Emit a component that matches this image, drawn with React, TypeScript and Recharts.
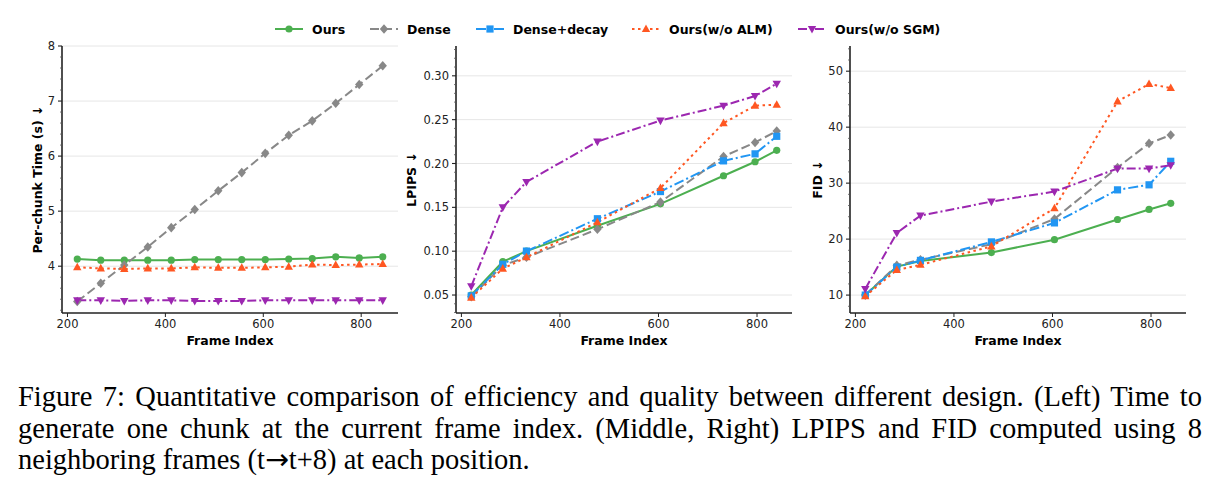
import React from "react";
import { LineChart, Line, XAxis, YAxis, ReferenceLine } from "recharts";

// frame positions sampled for the timing run and for the quality runs
const timeFrames = [220, 268, 316, 364, 412, 460, 508, 556, 604, 652, 700, 748, 796, 844];
const qualityFrames = [220, 284, 332, 476, 604, 732, 796, 840];

// per-chunk time (s)
const timeOurs = [4.13, 4.11, 4.11, 4.11, 4.11, 4.12, 4.12, 4.12, 4.12, 4.13, 4.14, 4.17, 4.15, 4.17];
const timeDense = [3.36, 3.69, 4.02, 4.35, 4.70, 5.03, 5.37, 5.70, 6.05, 6.38, 6.64, 6.96, 7.30, 7.64];
const timeNoAlm = [3.98, 3.96, 3.95, 3.96, 3.96, 3.98, 3.97, 3.97, 3.98, 3.99, 4.03, 4.02, 4.03, 4.04];
const timeNoSgm = [3.38, 3.38, 3.37, 3.38, 3.38, 3.37, 3.37, 3.37, 3.38, 3.38, 3.38, 3.38, 3.38, 3.38];

// LPIPS
const lpipsOurs = [0.050, 0.088, 0.100, 0.129, 0.154, 0.186, 0.202, 0.215];
const lpipsDense = [0.048, 0.084, 0.093, 0.125, 0.156, 0.208, 0.224, 0.237];
const lpipsDecay = [0.049, 0.085, 0.100, 0.137, 0.168, 0.203, 0.211, 0.231];
const lpipsNoAlm = [0.047, 0.080, 0.093, 0.133, 0.172, 0.246, 0.266, 0.267];
const lpipsNoSgm = [0.060, 0.150, 0.179, 0.225, 0.249, 0.266, 0.277, 0.291];

// FID
const fidOurs = [10.0, 15.1, 16.1, 17.6, 19.9, 23.5, 25.3, 26.4];
const fidDense = [10.0, 15.3, 16.3, 19.1, 23.6, 32.8, 37.1, 38.6];
const fidDecay = [10.0, 15.0, 16.2, 19.5, 22.9, 28.8, 29.7, 33.9];
const fidNoAlm = [9.8, 14.5, 15.4, 18.7, 25.5, 44.6, 47.7, 47.0];
const fidNoSgm = [11.1, 21.1, 24.2, 26.7, 28.5, 32.6, 32.6, 33.2];

const timeTicks = [4, 5, 6, 7, 8];
const lpipsTicks = [0.05, 0.1, 0.15, 0.2, 0.25, 0.3];
const fidTicks = [10, 20, 30, 40, 50];
const frameTicks = [200, 400, 600, 800];

type Shape = "circle" | "diamond" | "square" | "up" | "down";
type SeriesStyle = { key: string; name: string; color: string; dash?: string; shape: Shape };

const SERIES: SeriesStyle[] = [
  { key: "ours", name: "Ours", color: "#4caf50", shape: "circle" },
  { key: "dense", name: "Dense", color: "#888888", dash: "9 4", shape: "diamond" },
  { key: "decay", name: "Dense+decay", color: "#2196f3", dash: "10 3 2 3", shape: "square" },
  { key: "noAlm", name: "Ours(w/o ALM)", color: "#ff5722", dash: "2.5 3.5", shape: "up" },
  { key: "noSgm", name: "Ours(w/o SGM)", color: "#9c27b0", dash: "9 3 2 3", shape: "down" },
];

const timeRows = timeFrames.map((frame, i) => ({
  frame,
  ours: timeOurs[i],
  dense: timeDense[i],
  noAlm: timeNoAlm[i],
  noSgm: timeNoSgm[i],
}));

const lpipsRows = qualityFrames.map((frame, i) => ({
  frame,
  ours: lpipsOurs[i],
  dense: lpipsDense[i],
  decay: lpipsDecay[i],
  noAlm: lpipsNoAlm[i],
  noSgm: lpipsNoSgm[i],
}));

const fidRows = qualityFrames.map((frame, i) => ({
  frame,
  ours: fidOurs[i],
  dense: fidDense[i],
  decay: fidDecay[i],
  noAlm: fidNoAlm[i],
  noSgm: fidNoSgm[i],
}));

const SANS = "'DejaVu Sans', sans-serif";
const INK = "#222";

// every minor step inside the y range, majors included
function stepTicks(from: number, to: number, step: number) {
  const out: number[] = [];
  for (let k = Math.ceil(from / step - 1e-9); k * step <= to + 1e-9; k++) {
    out.push(+(k * step).toFixed(6));
  }
  return out;
}

function markerPath(shape: Shape, cx: number, cy: number) {
  switch (shape) {
    case "diamond":
      return `M${cx},${cy - 4.8}L${cx + 4.2},${cy}L${cx},${cy + 4.8}L${cx - 4.2},${cy}Z`;
    case "square":
      return `M${cx - 3.6},${cy - 3.6}h7.2v7.2h-7.2Z`;
    case "up":
      return `M${cx},${cy - 4.6}L${cx + 4.2},${cy + 3}L${cx - 4.2},${cy + 3}Z`;
    case "down":
      return `M${cx},${cy + 4.6}L${cx + 4.2},${cy - 3}L${cx - 4.2},${cy - 3}Z`;
    default:
      return "";
  }
}

function Marker({ shape, color, cx, cy }: { shape: Shape; color: string; cx: number; cy: number }) {
  if (shape === "circle") return <circle cx={cx} cy={cy} r={3.6} fill={color} />;
  return <path d={markerPath(shape, cx, cy)} fill={color} />;
}

function dotFor(s: SeriesStyle) {
  return (props: any) => {
    const { cx, cy, index } = props;
    if (cx == null || cy == null) return <g key={`${s.key}-${index}`} />;
    return (
      <g key={`${s.key}-${index}`}>
        <Marker shape={s.shape} color={s.color} cx={cx} cy={cy} />
      </g>
    );
  };
}

type PanelProps = {
  left: number;
  rows: any[];
  keys: string[];
  xDomain: [number, number];
  yDomain: [number, number];
  yTicks: number[];
  minorStep: number;
  yWidth: number;
  yTitle: string;
  yTitleX: number;
  fmt?: (v: number) => string;
};

function Panel({ left, rows, keys, xDomain, yDomain, yTicks, minorStep, yWidth, yTitle, yTitleX, fmt }: PanelProps) {
  const width = 400;
  const rightGap = width - yWidth - 336;
  const tickStyle = { fontSize: 11.5, fill: INK, fontFamily: SANS };
  const titleStyle = { fontSize: 12.5, fontWeight: "bold", fill: "#000", fontFamily: SANS };
  const frame = { stroke: INK, strokeWidth: 1.6 };
  const allTicks = stepTicks(yDomain[0], yDomain[1], minorStep);
  const isMajor = (v: number) => yTicks.some((m) => Math.abs(m - v) < 1e-6);

  const yTick = (p: any) => {
    const v = p.payload.value;
    const major = isMajor(v);
    return (
      <g>
        <line
          x1={yWidth - (major ? 4 : 2)}
          x2={yWidth}
          y1={p.y}
          y2={p.y}
          stroke={major ? INK : "#555"}
          strokeWidth={major ? 1.1 : 0.8}
        />
        {major && (
          <text x={yWidth - 7} y={p.y} dy="0.36em" textAnchor="end" {...tickStyle}>
            {fmt ? fmt(v) : v}
          </text>
        )}
      </g>
    );
  };

  return (
    <div style={{ position: "absolute", left, top: 0 }}>
      <LineChart
        width={width}
        height={360}
        data={rows}
        margin={{ top: 46, right: rightGap, bottom: 0, left: 0 }}
      >
        <XAxis
          dataKey="frame"
          type="number"
          domain={xDomain}
          ticks={frameTicks}
          allowDataOverflow
          height={47}
          tick={tickStyle}
          tickSize={4}
          tickMargin={3}
          tickLine={{ stroke: INK }}
          axisLine={frame}
          label={{ value: "Frame Index", position: "insideBottom", offset: 15, style: titleStyle }}
        />
        <XAxis
          xAxisId="top"
          orientation="top"
          type="number"
          domain={xDomain}
          allowDataOverflow
          height={0}
          tick={false}
          tickLine={false}
          axisLine={frame}
        />
        <YAxis
          type="number"
          domain={yDomain}
          ticks={allTicks}
          interval={0}
          allowDataOverflow
          width={yWidth}
          tick={yTick}
          tickSize={4}
          tickMargin={3}
          tickLine={false}
          axisLine={frame}
          label={{
            value: yTitle,
            angle: -90,
            position: "insideLeft",
            offset: yTitleX,
            style: { ...titleStyle, textAnchor: "middle" },
          }}
        />
        <YAxis
          yAxisId="right"
          orientation="right"
          type="number"
          domain={yDomain}
          allowDataOverflow
          width={0}
          tick={false}
          tickLine={false}
          axisLine={frame}
        />
        {/* horizontal grid at the major ticks only */}
        {yTicks.map((v) => (
          <ReferenceLine key={`grid-${v}`} y={v} stroke="#e6e6e6" strokeWidth={1} />
        ))}
        {SERIES.filter((s) => keys.includes(s.key)).map((s) => (
          <Line
            key={s.key}
            dataKey={s.key}
            name={s.name}
            type="linear"
            stroke={s.color}
            strokeWidth={2}
            strokeDasharray={s.dash}
            dot={dotFor(s)}
            activeDot={false}
            isAnimationActive={false}
          />
        ))}
      </LineChart>
    </div>
  );
}

function LegendRow() {
  const items = [
    { s: SERIES[0], x: 275 },
    { s: SERIES[1], x: 370 },
    { s: SERIES[2], x: 476 },
    { s: SERIES[3], x: 632 },
    { s: SERIES[4], x: 798 },
  ];
  return (
    <>
      {items.map(({ s, x }) => (
        <div
          key={s.key}
          style={{
            position: "absolute",
            left: x,
            top: 20,
            height: 18,
            display: "flex",
            alignItems: "center",
            gap: 9,
            fontFamily: SANS,
            fontWeight: "bold",
            fontSize: 12.5,
            color: "#000",
            whiteSpace: "nowrap",
          }}
        >
          <svg width={28} height={18}>
            <line x1={0} y1={9} x2={28} y2={9} stroke={s.color} strokeWidth={2} strokeDasharray={s.dash} />
            <Marker shape={s.shape} color={s.color} cx={14} cy={9} />
          </svg>
          <span>{s.name}</span>
        </div>
      ))}
    </>
  );
}

const captionLines = [
  "Figure 7: Quantitative comparison of efficiency and quality between different design. (Left) Time to",
  "generate one chunk at the current frame index. (Middle, Right) LPIPS and FID computed using 8",
];

export default function App() {
  const lineStyle = (last: boolean): React.CSSProperties => ({
    textAlign: "justify",
    textAlignLast: last ? "left" : "justify",
    whiteSpace: "nowrap",
  });
  return (
    <div
      style={{
        position: "absolute",
        left: 0,
        top: 0,
        width: 1219,
        height: 495,
        background: "#fff",
        overflow: "hidden",
      }}
    >
      <LegendRow />
      <Panel
        left={0}
        rows={timeRows}
        keys={["ours", "dense", "noAlm", "noSgm"]}
        xDomain={[188.8, 875.2]}
        yDomain={[3.15, 8]}
        yTicks={timeTicks}
        minorStep={0.2}
        yWidth={62}
        yTitle="Per-chunk Time (s) ↓"
        yTitleX={38}
      />
      <Panel
        left={400}
        rows={lpipsRows}
        keys={["ours", "dense", "decay", "noAlm", "noSgm"]}
        xDomain={[189, 871]}
        yDomain={[0.0295, 0.334]}
        yTicks={lpipsTicks}
        minorStep={0.01}
        yWidth={56}
        yTitle="LPIPS ↓"
        yTitleX={12}
        fmt={(v) => v.toFixed(2)}
      />
      <Panel
        left={800}
        rows={fidRows}
        keys={["ours", "dense", "decay", "noAlm", "noSgm"]}
        xDomain={[189, 871]}
        yDomain={[6.8, 54.5]}
        yTicks={fidTicks}
        minorStep={2}
        yWidth={50}
        yTitle="FID ↓"
        yTitleX={18}
      />
      <div
        style={{
          position: "absolute",
          left: 18,
          top: 381,
          width: 1184,
          fontFamily: "'Liberation Serif', 'Times New Roman', serif",
          fontSize: 28.5,
          lineHeight: "31.5px",
          color: "#000",
        }}
      >
        {captionLines.map((line, i) => (
          <div key={i} style={lineStyle(false)}>
            {line}
          </div>
        ))}
        <div style={lineStyle(true)}>
          neighboring frames (t<span style={{ fontFamily: SANS }}>{"\u2192"}</span>t+8) at each position.
        </div>
      </div>
    </div>
  );
}
